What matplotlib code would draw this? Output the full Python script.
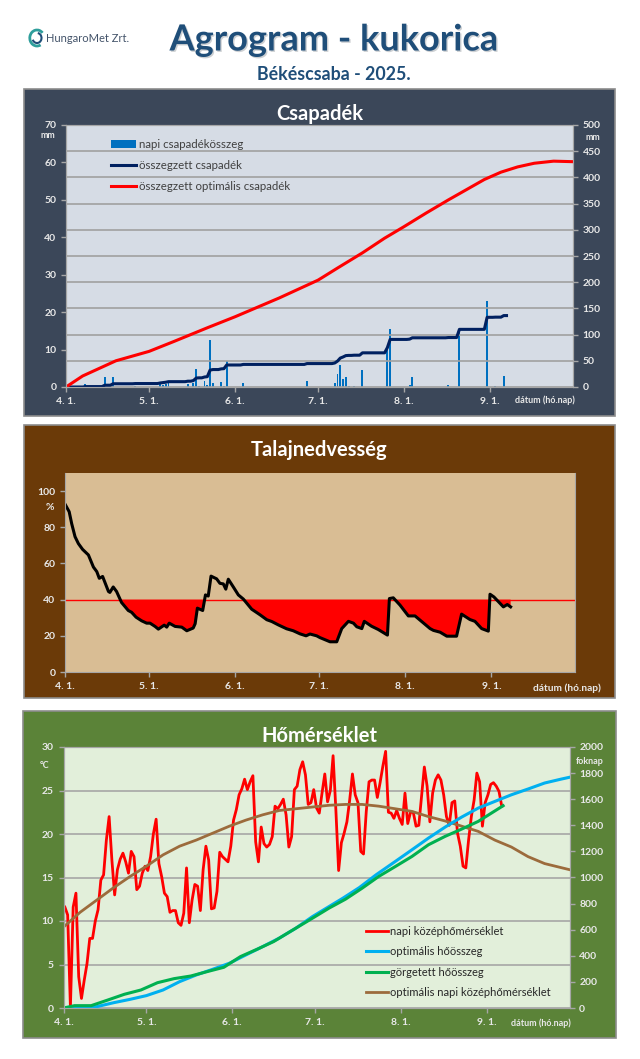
import numpy as np
import matplotlib
matplotlib.use("Agg")
import matplotlib.pyplot as plt
import matplotlib.patheffects as pe
from matplotlib.patches import Rectangle, Arc

# --- Parameters ---
plt.rcParams["font.family"] = ["Lato", "DejaVu Sans"]
W, H = 640, 1059                     # output size in pixels
month_days = [0, 30, 61, 91, 122, 153]  # April 1 = day 0
month_labels = ["4. 1.", "5. 1.", "6. 1.", "7. 1.", "8. 1.", "9. 1."]
label_color = "#e8e8e8"
axis_color = "#a6a6a6"

# --- Data: rainfall ---
rain_events = {7: 0.8, 14: 2.6, 17: 2.8, 25: 0.4, 34: 1.1, 35: 0.6, 36: 0.8, 37: 1.1, 44: 0.9,
               46: 1.2, 47: 4.8, 48: 0.4, 50: 1.6, 51: 0.6, 52: 12.5, 53: 1.1, 56: 1.3, 57: 0.4,
               58: 7.0, 64: 1.1, 87: 1.6, 97: 1.1, 98: 3.6, 99: 5.8, 100: 2.1, 101: 2.6, 102: 0.4,
               104: 0.4, 107: 4.5, 116: 10.0, 117: 15.6, 124: 0.5, 125: 2.6, 138: 0.5, 142: 15.6,
               152: 23.0, 155: 0.3, 158: 3.0}
rain_days = np.arange(160)
rain_daily = np.array([rain_events.get(d, 0) for d in rain_days])
opt_rain_days = [0, 6, 18, 30, 39, 51, 61, 69, 77, 84, 91, 98, 107, 115, 122, 130, 138, 145, 151, 157, 163, 169, 176, 183]
opt_rain = [0, 21, 50, 68, 87, 113, 134, 152, 170, 187, 204, 227, 256, 284, 306, 332, 357, 378, 396, 410, 420, 427, 431, 430]

# --- Data: soil moisture ---
soil_days = np.array([0, 1.5, 2.4, 3.6, 4.8, 6.3, 8.4, 10.2, 11.4, 12.3, 13.5, 15.6, 16.1, 17.3, 18.5, 20.3,
                      22.7, 23.9, 25.5, 27.5, 29.3, 30.5, 32.3, 33.5, 35.6, 36.5, 37.4, 39.5, 41.9, 43.7,
                      46, 46.7, 47.5, 49.4, 50.4, 51.4, 52.4, 54.4, 55.6, 56.8, 57.7, 58.6, 60.4, 62.2,
                      64, 67, 70, 72.4, 74.2, 76.6, 79.5, 81.9, 84.3, 86.5, 87.9, 90.3, 91.5, 95.1, 97.5,
                      99.3, 101.7, 103.5, 104.7, 106.5, 107.4, 110, 112.4, 115.7, 116.4, 117.8, 120.2,
                      123.2, 125.6, 131, 132.2, 134.6, 137, 140.5, 142.3, 145.3, 147.1, 149.5, 151.9,
                      152.5, 153.9, 157.3, 158.7, 159.9])
soil = np.array([92.8, 88.6, 82, 74.8, 71, 67.8, 64.7, 58, 55.5, 51.8, 52.8, 44.5, 44, 47, 44.5, 38.4,
                 34, 33, 30.3, 28.3, 27, 27, 25.2, 23.7, 25.9, 24.8, 27, 25.2, 24.8, 22.8,
                 24.3, 26.7, 35.3, 34, 42.6, 42, 53, 51.5, 49, 48.7, 45.8, 51.3, 47, 42.6,
                 40.3, 34.7, 31.6, 28.9, 27.9, 26, 23.9, 22.8, 21.1, 20, 21, 20, 19, 16.7, 16.7,
                 24, 28, 27, 25, 24, 28, 25.3, 23.5, 20.4, 40.6, 41, 37,
                 31, 31, 24, 23, 22, 19.8, 19.8, 32, 29, 28, 24, 22.6,
                 43, 41.5, 36, 37.3, 36])
soil_limit = 40

# --- Data: temperature ---
temp = [11.6, 10.7, 0.1, 11.6, 13.2, 3.6, 1.1, 3.2, 5.1, 8, 8, 10, 11.3, 14.7, 15.3, 19.3, 22, 17, 13, 15.9,
        17.1, 17.8, 16.8, 15.5, 18, 17.4, 13.6, 14, 15.5, 16.3, 15.8, 17.4, 20, 21.7, 16.6, 15.1, 13.2, 12.8, 11, 11.2,
        11.2, 9.8, 9.5, 10.9, 16.1, 9.8, 12.4, 14.2, 14, 11.2, 15.9, 18.6, 17, 11.4, 11.5, 13.4, 17.9, 17.4, 17.1, 16.8,
        18.6, 21.6, 22.8, 24.5, 25.2, 26.3, 25.1, 26, 26.7, 19.1, 16.8, 20.8, 18.9, 18.5, 18.8, 19.7, 23.2, 22.9, 23.4, 24,
        22.2, 18.5, 19.7, 25.1, 25.5, 27.4, 28.3, 26.8, 23.4, 23.6, 25.1, 23, 22.4, 24.7, 26.9, 23.7, 25, 29, 22.8, 15.8,
        19, 20.1, 21.4, 23.9, 26.9, 24.5, 23.6, 18, 17.7, 22.6, 26, 26.2, 26.2, 24.2, 25.9, 27.8, 29.5, 22.5, 22.4, 21.8,
        22.7, 21.8, 21.1, 24.7, 21.2, 22.5, 22.5, 20.9, 21, 24.3, 27.7, 25.5, 21.4, 24.7, 26.2, 26.8, 26.2, 24.5, 22, 21,
        23.6, 23.8, 20.1, 18.6, 16.3, 16.1, 19.3, 22, 23.9, 27, 26, 20.9, 23.6, 24.5, 25.7, 25.9, 25.5, 24.9, 23.2]
temp_days = np.arange(len(temp)) + 0.5
opt_temp_days = list(range(0, 180, 6)) + [183]
opt_temp = [9.3, 11, 12.4, 13.8, 15.1, 16.3, 17.6, 18.6, 19.3, 20.1, 20.9, 21.6, 22.2, 22.7, 22.9, 23.1, 23.3,
            23.4, 23.4, 23.2, 22.9, 22.6, 22, 21.5, 20.9, 20.3, 19.3, 18.5, 17.4, 16.6, 15.9]
opt_sum_days = [0, 12, 18, 24, 30, 36, 42, 48, 54, 60, 66, 72, 78, 84, 90, 96, 101, 107, 113, 120, 126, 132,
                138, 144, 150, 156, 162, 168, 174, 180, 183]
opt_sum = [0, 10, 40, 66, 95, 138, 202, 253, 297, 343, 407, 470, 535, 611, 700, 777, 841, 923, 1020, 1123, 1212,
           1302, 1386, 1463, 1532, 1583, 1634, 1678, 1724, 1754, 1768]
roll_sum_days = [0, 4, 10, 16, 22, 28, 34, 40, 46, 52, 58, 64, 70, 76, 82, 88, 94, 96, 102, 108, 114, 120, 126,
                 132, 138, 144, 150, 159]
roll_sum = [0, 18, 18, 61, 105, 138, 194, 225, 245, 279, 312, 394, 450, 509, 586, 662, 739, 765, 834, 918, 1008,
            1084, 1161, 1251, 1315, 1371, 1430, 1550]

# --- Functions ---
def px_box(left, top, right, bottom):
    """Converts a pixel box of the picture to figure coordinates."""
    return [left / W, 1 - bottom / H, (right - left) / W, (bottom - top) / H]

def add_panel(left, top, right, bottom, color, title):
    """Draws the coloured panel behind a chart, with its title."""
    box = px_box(left, top, right, bottom)
    fig.add_artist(Rectangle((box[0], box[1]), box[2], box[3], transform=fig.transFigure,
                             facecolor=color, edgecolor="#8c8c8c", linewidth=1.2, zorder=-5))
    fig.text((left + right) / 2 / W, 1 - (top + 25) / H, title, color="white", fontsize=14.5, fontweight="bold",
             ha="center", va="center")

def style_axis():
    """Sets tick colours and sizes on the current axes."""
    ax = plt.gca()
    ax.tick_params(colors=axis_color, labelcolor=label_color, labelsize=7.5, length=3.5, width=1)
    for label in ax.get_xticklabels() + ax.get_yticklabels():
        label.set_fontweight("bold")
    for spine in ax.spines.values():
        spine.set_color(axis_color)

def small_label(x, y, text, size=6.5):
    """Writes a small unit label at a pixel position."""
    fig.text(x / W, 1 - y / H, text, color=label_color, fontsize=size, fontweight="bold", ha="center", va="center")

# --- Plotting ---
fig = plt.figure(figsize=(W / 100, H / 100), dpi=100, facecolor="white")

# header
fig.text(334 / W, 1 - 40 / H, "Agrogram - kukorica", color="#1f4e79", fontsize=26, fontweight="bold",
         ha="center", va="center", path_effects=[pe.withSimplePatchShadow(offset=(1, -1), alpha=0.2)])
fig.text(334 / W, 1 - 74 / H, "Békéscsaba - 2025.", color="#1f4e79", fontsize=12.8, fontweight="bold",
         ha="center", va="center")
fig.text(46 / W, 1 - 38 / H, "HungaroMet Zrt.", color="#44546a", fontsize=8, ha="left", va="center")
plt.axes(px_box(28, 28, 46, 48)).set_axis_off()
plt.xlim(-1, 1)
plt.ylim(-1, 1)
plt.gca().add_patch(Arc((0, 0), 1.6, 1.6, theta1=40, theta2=300, color="#2e9e9b", lw=2))
plt.gca().add_patch(Arc((0, 0), 1.0, 1.0, theta1=200, theta2=80, color="#1f4e79", lw=1.5))

add_panel(24, 89, 615, 416, "#3b4759", "Csapadék")
add_panel(24, 425, 615, 698, "#6b3a08", "Talajnedvesség")
add_panel(23, 711, 616, 1038, "#5b8338", "Hőmérséklet")

# rainfall chart
plt.axes(px_box(66, 125, 573, 387), facecolor="#d6dce5")
bars = plt.bar(rain_days, rain_daily, width=0.7, color="#0070c0", label="napi csapadékösszeg")
plt.xlim(0, 183)
plt.ylim(0, 70)
plt.xticks(month_days, month_labels)
plt.yticks(range(0, 80, 10))
style_axis()

plt.twinx()
line1, = plt.plot(rain_days, np.cumsum(rain_daily), color="#002060", lw=2.2, label="összegzett csapadék")
line2, = plt.plot(opt_rain_days, opt_rain, color="#ff0000", lw=2.2, label="összegzett optimális csapadék")
plt.ylim(0, 500)
plt.yticks(range(0, 550, 50))
plt.grid(True, axis="y", color="#a0a0a0", lw=1.2)
style_axis()
plt.legend(handles=[bars, line1, line2], loc="upper left", bbox_to_anchor=(0.068, 0.985), frameon=False, fontsize=8.3,
           labelspacing=0.87, handlelength=2.17, handletextpad=0.25, labelcolor="#404040")
small_label(48, 136, "mm")
small_label(593, 137, "mm")
small_label(545, 400, "dátum (hó.nap)")

# soil moisture chart
plt.axes(px_box(65, 473, 575, 672), facecolor="#d9bd94")
plt.fill_between(soil_days, soil, soil_limit, where=soil < soil_limit, interpolate=True, color="#ff0000", lw=0)
plt.axhline(soil_limit, color="#ff0000", lw=1)
plt.plot(soil_days, soil, color="black", lw=2.2)
plt.xlim(0, 183)
plt.ylim(0, 110)
plt.xticks(month_days, month_labels)
plt.yticks(range(0, 120, 20))
plt.gca().spines["top"].set_visible(False)
style_axis()
small_label(50, 507, "%", 7.5)
small_label(567, 688, "dátum (hó.nap)", 7.3)

# temperature chart
plt.axes(px_box(63.5, 747, 569.5, 1008), facecolor="#e2efda")
line3, = plt.plot(temp_days, temp, color="#ff0000", lw=2, label="napi középhőmérséklet")
line6, = plt.plot(opt_temp_days, opt_temp, color="#9c6b3c", lw=2, label="optimális napi középhőmérséklet")
plt.xlim(0, 183)
plt.ylim(0, 30)
plt.xticks(month_days, month_labels)
plt.yticks(range(0, 35, 5))
plt.grid(True, axis="y", color="#a6a6a6", lw=1.2)
plt.gca().set_axisbelow(True)
style_axis()

plt.twinx()
line4, = plt.plot(opt_sum_days, opt_sum, color="#00b0f0", lw=2.2, label="optimális hőösszeg")
line5, = plt.plot(roll_sum_days, roll_sum, color="#00b050", lw=2.2, label="görgetett hőösszeg")
plt.ylim(0, 2000)
plt.yticks(range(0, 2200, 200))
style_axis()
plt.legend(handles=[line3, line4, line5, line6], loc="lower left", bbox_to_anchor=(0.578, 0.0), frameon=False,
           fontsize=8.0, labelspacing=0.85, handlelength=2.0, handletextpad=0.2, labelcolor="#262626")
small_label(45, 765, "°C")
small_label(590, 762, "foknap")
small_label(541, 1023, "dátum (hó.nap)")

plt.savefig("out.png", dpi=100)
